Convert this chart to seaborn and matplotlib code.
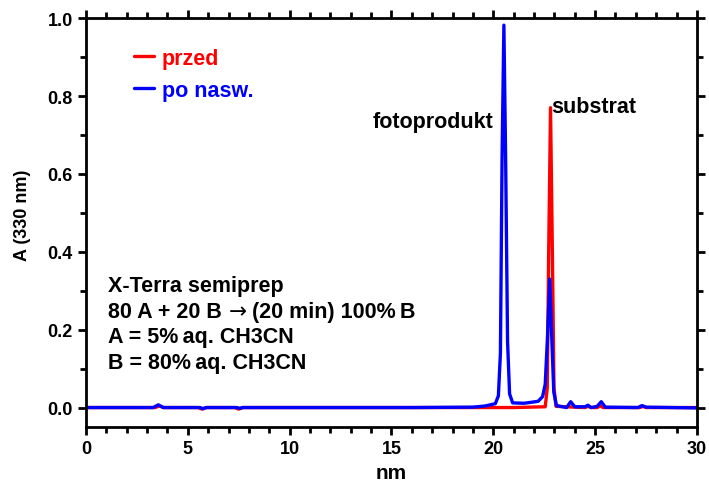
import numpy as np
import pandas as pd
import seaborn as sns
from matplotlib import pyplot as plt
from matplotlib.ticker import MultipleLocator
from matplotlib.lines import Line2D

# chromatogram traces (time in min, absorbance)
przed_t = [0.0, 3.4, 3.6, 3.8, 5.5, 5.7, 5.9, 7.3, 7.5, 7.7, 12.0, 16.0, 19.0, 21.0,
           22.55, 22.65, 22.72, 22.81, 22.90, 22.98, 23.08, 24.5, 24.65, 24.8,
           25.1, 25.25, 25.4, 27.2, 27.35, 27.5, 30.0]
przed_a = [0.0, 0.0, 0.004, 0.0, 0.0, -0.004, 0.0, 0.0, -0.004, 0.0, 0.0, 0.0, 0.0, 0.0,
           0.002, 0.05, 0.40, 0.77, 0.40, 0.05, 0.003, 0.0, 0.003, 0.0,
           0.0, 0.004, 0.0, 0.0, 0.003, 0.0, 0.0]

po_t = [0.0, 3.3, 3.55, 3.8, 5.6, 5.75, 5.9, 7.4, 7.55, 7.7, 12.0, 16.0, 19.0, 19.6,
        20.1, 20.25, 20.35, 20.43, 20.52, 20.61, 20.70, 20.80, 20.95, 21.5, 21.8,
        22.2, 22.42, 22.55, 22.66, 22.77, 22.87, 22.97, 23.1, 23.6, 23.8, 24.0,
        24.5, 24.65, 24.8, 25.1, 25.3, 25.5, 27.1, 27.3, 27.5, 30.0]
po_a = [0.0, 0.0, 0.007, 0.0, 0.0, -0.003, 0.0, 0.0, -0.002, 0.0, 0.0, 0.0, 0.001, 0.004,
        0.01, 0.03, 0.14, 0.64, 0.982, 0.62, 0.17, 0.035, 0.012, 0.011, 0.013,
        0.016, 0.028, 0.06, 0.18, 0.33, 0.18, 0.04, 0.005, 0.0, 0.015, 0.002,
        0.002, 0.006, 0.0, 0.003, 0.015, 0.001, 0.0, 0.005, 0.001, -0.001]

series_names = ['przed', 'po nasw.']
series_colors = ['#ff0000', '#0000ff']

# second info line is split round the arrow so the arrow can use DejaVu Sans
info_lines = ['X-Terra semiprep',
              ['80 A + 20 B', '\u2192', '(20 min) 100%\u2009B'],
              'A = 5%\u2009aq. CH3CN',
              'B = 80%\u2009aq. CH3CN']

sns.set_style('ticks')
plt.rcParams['font.family'] = ['Liberation Sans', 'DejaVu Sans']
plt.rcParams['font.weight'] = 'bold'
for key in ['text.color', 'axes.labelcolor', 'xtick.color', 'ytick.color', 'axes.edgecolor']:
    plt.rcParams[key] = 'black'

TXT = 15.5

fig = plt.figure(figsize=(7.09, 4.85), dpi=100)
ax = fig.add_axes([0.1213, 0.1175, 0.8617, 0.843])

df_przed = pd.DataFrame({'t': przed_t, 'A': przed_a})
df_po = pd.DataFrame({'t': po_t, 'A': po_a})
sns.lineplot(data=df_przed, x='t', y='A', color=series_colors[0], lw=2.4, sort=False, ax=ax)
sns.lineplot(data=df_po, x='t', y='A', color=series_colors[1], lw=2.4, sort=False, ax=ax)

ax.set_xlim(0, 30)
ax.set_ylim(-0.05, 1.0)
ax.xaxis.set_major_locator(MultipleLocator(5))
ax.xaxis.set_minor_locator(MultipleLocator(1))
ax.yaxis.set_major_locator(MultipleLocator(0.2))
ax.yaxis.set_minor_locator(MultipleLocator(0.1))
ax.yaxis.set_major_formatter(plt.FuncFormatter(lambda v, p: f'{v:.1f}'))

for s in ax.spines.values():
    s.set_linewidth(2.0)
ax.tick_params(which='both', direction='out', width=2.0, top=True, right=True,
               labelsize=13)
ax.tick_params(which='major', length=6)
ax.tick_params(which='minor', length=4)
for lab in ax.get_xticklabels() + ax.get_yticklabels():
    lab.set_fontweight('bold')

ax.set_xlabel('nm', fontsize=15, fontweight='bold', labelpad=4)
ax.set_ylabel('A (330 nm)', fontsize=13, fontweight='bold')
ax.yaxis.set_label_coords(-0.09, 0.52)

handles = [Line2D([], [], color=c, lw=2.4) for c in series_colors]
leg = ax.legend(handles, series_names, loc='upper left', bbox_to_anchor=(0.064, 0.948),
                frameon=False, handlelength=0.95, handletextpad=0.35, labelspacing=0.5,
                borderaxespad=0, labelcolor=series_colors, prop={'size': TXT, 'weight': 'bold'})

ax.text(14.05, 0.734, 'fotoprodukt', fontsize=TXT, fontweight='bold', ha='left', va='center')
ax.text(22.85, 0.772, 'substrat', fontsize=TXT, fontweight='bold', ha='left', va='center')

for i, line in enumerate(info_lines):
    y = 0.345 - i * 0.062
    if isinstance(line, str):
        ax.text(0.036, y, line, transform=ax.transAxes, fontsize=TXT,
                fontweight='bold', ha='left', va='center')
    else:
        t1 = ax.text(0.036, y, line[0], transform=ax.transAxes, fontsize=TXT,
                     fontweight='bold', ha='left', va='center')
        t2 = ax.annotate(line[1], xy=(1, 0.5), xycoords=t1, xytext=(5, 0),
                         textcoords='offset points', fontsize=TXT, family='DejaVu Sans',
                         fontweight='normal', ha='left', va='center')
        ax.annotate(line[2], xy=(1, 0.5), xycoords=t2, xytext=(4, 0),
                    textcoords='offset points', fontsize=TXT, fontweight='bold',
                    ha='left', va='center')

fig.savefig('out.png', dpi=100)
